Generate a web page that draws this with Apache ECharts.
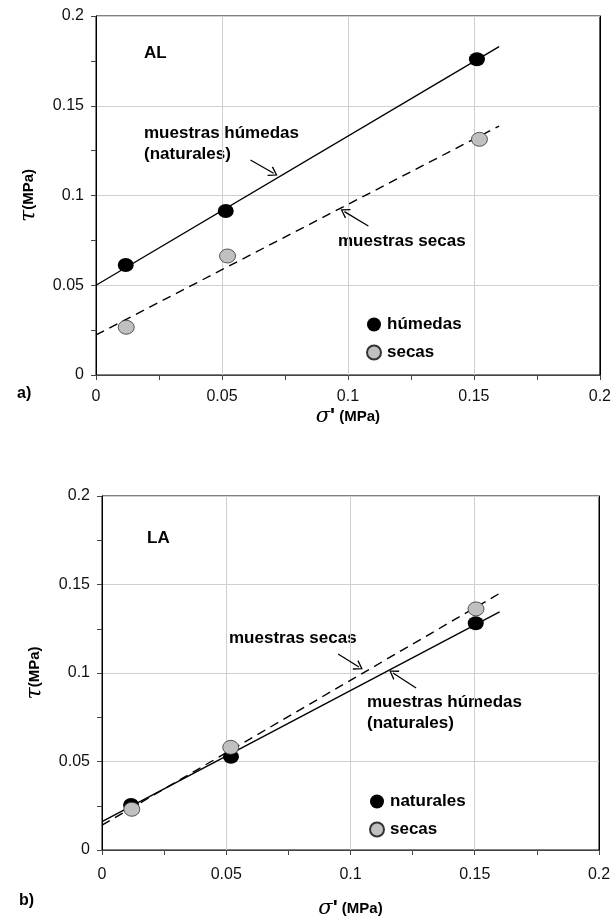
<!DOCTYPE html>
<html>
<head>
<meta charset="utf-8">
<script src="https://cdn.jsdelivr.net/npm/echarts@6/dist/echarts.min.js"></script>
<style>
  html, body { margin: 0; padding: 0; background: #fff; }
  #chart { width: 614px; height: 920px; }
</style>
</head>
<body>
<div id="chart"></div>
<script>
  // a) AL
  var alHumedas = [[0.0118, 0.0613], [0.0515, 0.0914], [0.1512, 0.1759]]
  var alSecas = [[0.0120, 0.0266], [0.0522, 0.0663], [0.1522, 0.1313]]
  var alFitHumedas = [[0, 0.0500], [0.160, 0.1829]]
  var alFitSecas = [[0, 0.0223], [0.160, 0.1387]]
  // b) LA
  var laNaturales = [[0.0117, 0.0254], [0.0519, 0.0527], [0.1504, 0.1281]]
  var laSecas = [[0.0120, 0.0230], [0.0518, 0.0580], [0.1505, 0.1362]]
  var laFitNaturales = [[0, 0.0160], [0.160, 0.1346]]
  var laFitSecas = [[0, 0.0140], [0.160, 0.1450]]
  // annotation arrows (tail -> tip) in data units
  var alArrows = [[[0.0613, 0.1198], [0.0705, 0.1124]], [[0.1081, 0.0830], [0.0986, 0.0910]]]
  var laArrows = [[[0.0950, 0.1107], [0.1034, 0.1034]], [[0.1264, 0.0915], [0.1171, 0.1000]]]
  var axisMin = 0, axisMax = 0.2, axisStep = 0.05

  var FONT = 'Liberation Sans, Arial, sans-serif'
  var OPEN_ARROW = 'path://M0,0 L6,10 L4.6,10.8 L0,2.6 L-4.6,10.8 L-6,10 Z'

  function xAxisOpt (gridIndex, nameGap, margin) {
    return {
      type: 'value', gridIndex: gridIndex, min: axisMin, max: axisMax, interval: axisStep,
      name: '{s|σ}{p|\'}{m| (MPa)}', nameLocation: 'middle', nameGap: nameGap,
      nameTextStyle: {
        rich: {
          s: { fontFamily: 'DejaVu Serif, serif', fontStyle: 'italic', fontSize: 21, color: '#000' },
          p: { fontFamily: FONT, fontWeight: 'bold', fontSize: 21, color: '#000' },
          m: { fontFamily: FONT, fontWeight: 'bold', fontSize: 15, color: '#000' }
        }
      },
      axisLine: { show: true, onZero: false, lineStyle: { color: '#444', width: 1 } },
      axisTick: { show: true, length: 5, lineStyle: { color: '#444' } },
      minorTick: { show: true, splitNumber: 2, length: 5, lineStyle: { color: '#444' } },
      splitLine: { show: true, lineStyle: { color: '#cfcfcf', width: 1 } },
      axisLabel: { fontFamily: FONT, fontSize: 16, color: '#111', margin: margin }
    }
  }

  function yAxisOpt (gridIndex) {
    return {
      type: 'value', gridIndex: gridIndex, min: axisMin, max: axisMax, interval: axisStep,
      name: '{t|τ}{m|(MPa)}', nameLocation: 'middle', nameGap: 56, nameRotate: 90,
      nameTextStyle: {
        rich: {
          t: { fontFamily: 'DejaVu Serif, serif', fontStyle: 'italic', fontSize: 22, color: '#000' },
          m: { fontFamily: FONT, fontWeight: 'bold', fontSize: 15, color: '#000' }
        }
      },
      axisLine: { show: true, onZero: false, lineStyle: { color: '#000', width: 1 } },
      axisTick: { show: true, length: 5, lineStyle: { color: '#444' } },
      minorTick: { show: true, splitNumber: 2, length: 5, lineStyle: { color: '#444' } },
      splitLine: { show: true, lineStyle: { color: '#cfcfcf', width: 1 } },
      axisLabel: { fontFamily: FONT, fontSize: 16, color: '#111', margin: 12 }
    }
  }

  // right frame edge is black in the original
  function rightEdge (gridIndex) {
    return {
      type: 'value', gridIndex: gridIndex, position: 'right', min: axisMin, max: axisMax,
      axisLine: { show: true, onZero: false, lineStyle: { color: '#000', width: 1 } },
      axisTick: { show: false }, axisLabel: { show: false }, splitLine: { show: false }
    }
  }

  function fitLine (name, idx, data, dashed) {
    return {
      name: name, type: 'line', xAxisIndex: idx, yAxisIndex: idx, data: data,
      symbol: 'none', silent: true, z: 2,
      lineStyle: { color: '#000', width: 1.4, type: dashed ? [9, 6] : 'solid' }
    }
  }

  function points (name, idx, data, color) {
    return {
      name: name, type: 'scatter', xAxisIndex: idx, yAxisIndex: idx, data: data,
      symbol: 'circle', symbolSize: [16, 14], z: 4,
      itemStyle: { color: color, borderColor: '#333', borderWidth: color === '#000' ? 0 : 0.8, opacity: 1 }
    }
  }

  function arrows (idx, list) {
    return {
      name: 'arrows' + idx, type: 'line', xAxisIndex: idx, yAxisIndex: idx, data: [],
      silent: true,
      markLine: {
        silent: true, animation: false,
        symbol: ['none', OPEN_ARROW], symbolSize: [11, 9],
        label: { show: false },
        lineStyle: { color: '#000', width: 1.3, type: 'solid' },
        itemStyle: { color: '#000' },
        data: list.map(function (a) {
          return [{ coord: a[0] }, { coord: a[1] }]
        })
      }
    }
  }

  function txt (x, y, text, size) {
    return {
      type: 'text', left: x, top: y,
      style: { text: text, fontFamily: FONT, fontWeight: 'bold', fontSize: size || 17, fill: '#000', lineHeight: 21 }
    }
  }

  function legendOpt (names, left, top) {
    return {
      data: names, orient: 'vertical', left: left, top: top,
      itemWidth: 16, itemHeight: 14, itemGap: 11, icon: 'circle',
      textStyle: { fontFamily: FONT, fontWeight: 'bold', fontSize: 17, color: '#000' },
      selectedMode: false
    }
  }

  var chart = echarts.init(document.getElementById('chart'), null, { renderer: 'canvas' })
  chart.setOption({
    backgroundColor: '#fff',
    animation: false,
    grid: [
      { left: 96, top: 16, width: 505, height: 359, show: true, borderColor: '#000', borderWidth: 1 },
      { left: 102, top: 496, width: 497, height: 354, show: true, borderColor: '#000', borderWidth: 1 }
    ],
    xAxis: [xAxisOpt(0, 25, 14), xAxisOpt(1, 48, 17)],
    yAxis: [yAxisOpt(0), yAxisOpt(1), rightEdge(0), rightEdge(1)],
    legend: [
      legendOpt(['húmedas', 'secas'], 361, 311),
      legendOpt(['naturales', 'secas'], 364, 788)
    ],
    graphic: [
      txt(144, 43, 'AL'),
      txt(144, 123, 'muestras húmedas\n(naturales)'),
      txt(338, 231, 'muestras secas'),
      txt(17, 383, 'a)', 16),
      txt(147, 528, 'LA'),
      txt(229, 628, 'muestras secas'),
      txt(367, 692, 'muestras húmedas\n(naturales)'),
      txt(19, 890, 'b)', 16)
    ],
    series: [
      fitLine('fitH0', 0, alFitHumedas, false),
      fitLine('fitS0', 0, alFitSecas, true),
      points('húmedas', 0, alHumedas, '#000'),
      points('secas', 0, alSecas, '#c0c0c0'),
      arrows(0, alArrows),
      fitLine('fitN1', 1, laFitNaturales, false),
      fitLine('fitS1', 1, laFitSecas, true),
      points('naturales', 1, laNaturales, '#000'),
      points('secas', 1, laSecas, '#c0c0c0'),
      arrows(1, laArrows)
    ]
  })
</script>
</body>
</html>
